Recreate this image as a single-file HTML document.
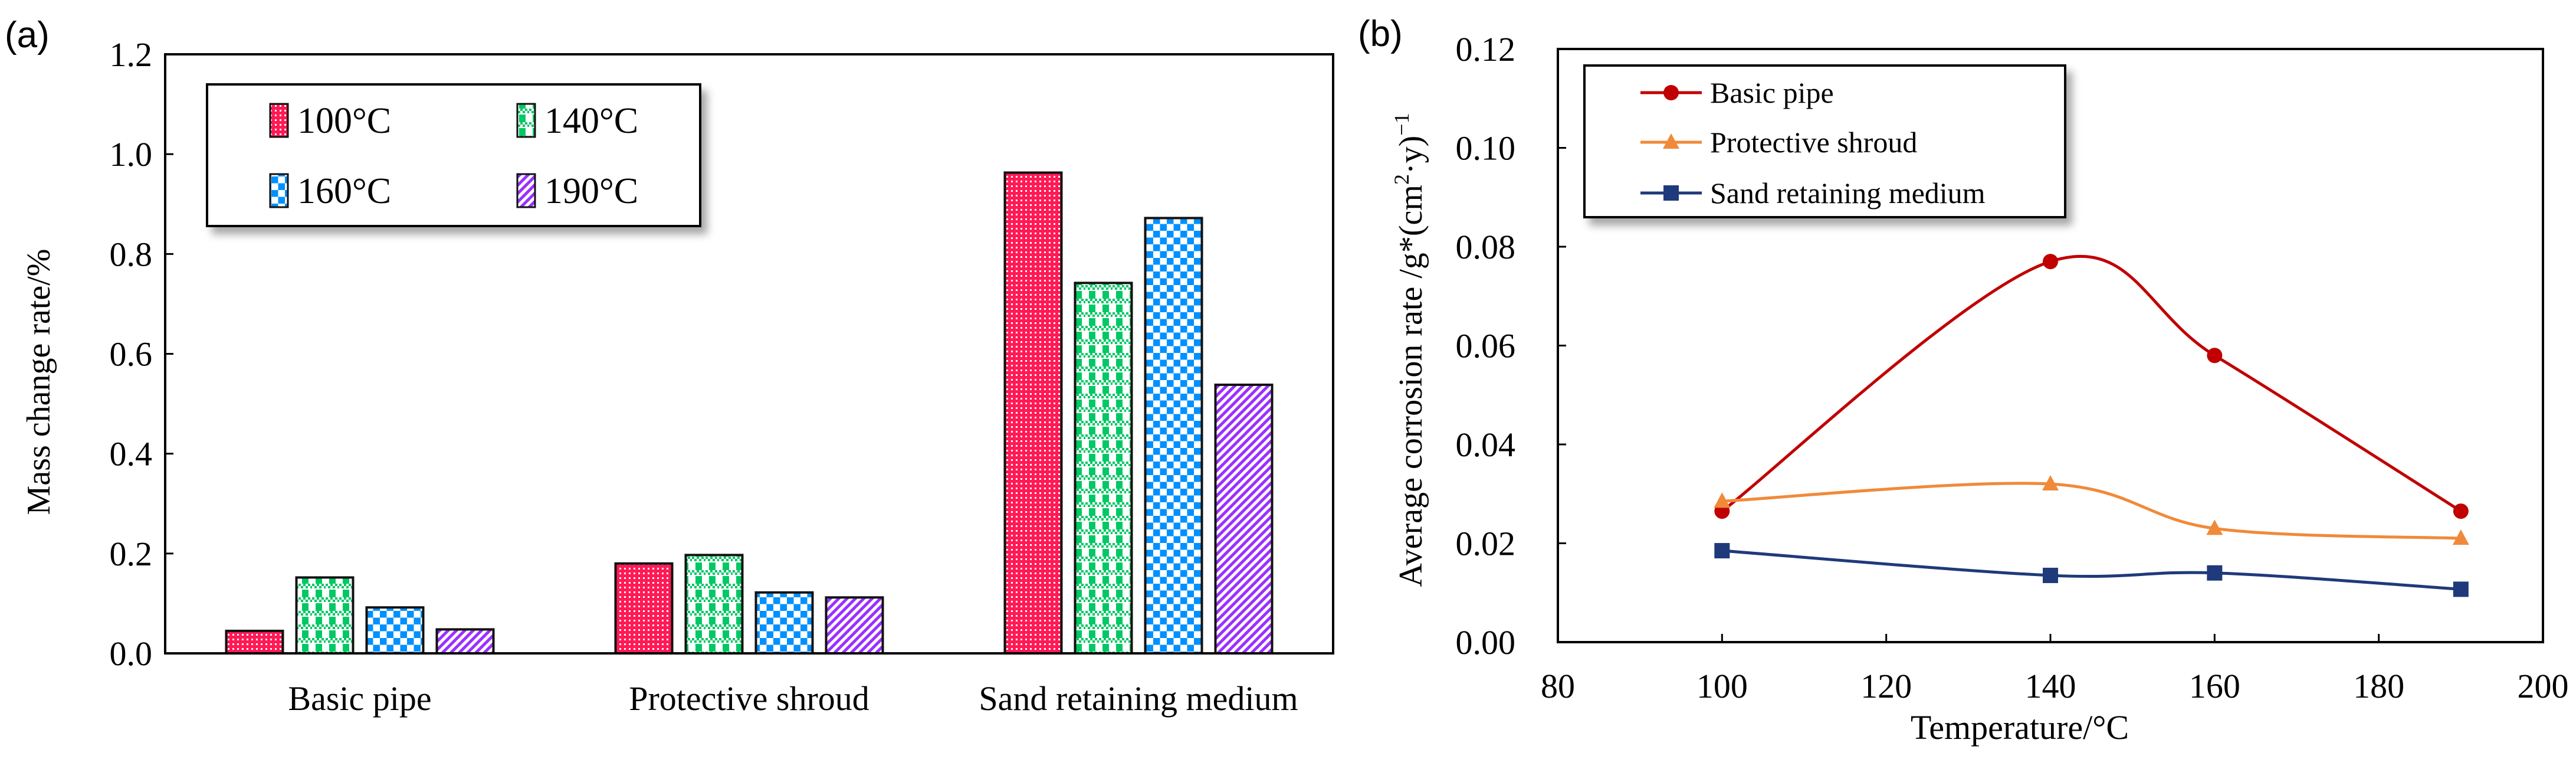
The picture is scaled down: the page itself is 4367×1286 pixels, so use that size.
<!DOCTYPE html>
<html><head><meta charset="utf-8">
<style>
html,body{margin:0;padding:0;background:#fff;}
svg{display:block;font-family:"Liberation Serif",serif;}
</style></head>
<body>
<svg id="fig" width="4367" height="1286" viewBox="0 0 4367 1286" xmlns="http://www.w3.org/2000/svg">
<defs>
<pattern id="pRed" width="8" height="8" patternUnits="userSpaceOnUse"><rect width="8" height="8" fill="#ff1a55"/><rect x="2" y="2" width="3" height="3" fill="#fff"/></pattern>
<pattern id="pGreen" width="23" height="23" patternUnits="userSpaceOnUse"><rect width="23" height="23" fill="#fff"/><rect x="6" y="10" width="11" height="13" fill="#00c864"/><rect x="0" y="0" width="4" height="4" fill="#00c864"/><rect x="8" y="0" width="4" height="4" fill="#00c864"/><rect x="16" y="0" width="4" height="4" fill="#00c864"/><rect x="4" y="4" width="4" height="4" fill="#00c864"/><rect x="12" y="4" width="4" height="4" fill="#00c864"/><rect x="20" y="4" width="3" height="4" fill="#00c864"/></pattern>
<pattern id="pBlue" width="23" height="23" patternUnits="userSpaceOnUse"><rect width="23" height="23" fill="#fff"/><rect width="11.5" height="11.5" fill="#0090ff"/><rect x="11.5" y="11.5" width="11.5" height="11.5" fill="#0090ff"/></pattern>
<pattern id="pPurple" width="10" height="10" patternUnits="userSpaceOnUse" patternTransform="rotate(45)"><rect width="10" height="10" fill="#fff"/><rect width="5" height="10" fill="#9b30ff"/></pattern>
<filter id="sh" x="-10%" y="-10%" width="130%" height="140%"><feDropShadow dx="10" dy="12" stdDeviation="7" flood-color="#000" flood-opacity="0.35"/></filter>
</defs>
<g id="chartA"></g>
<g id="chartB"></g>
</svg>
<script>
// ---- Chart A data ----
const catsA = ["Basic pipe","Protective shroud","Sand retaining medium"];
const seriesNamesA = ["100°C","140°C","160°C","190°C"];
const s100 = [0.045,0.18,0.963];
const s140 = [0.152,0.197,0.742];
const s160 = [0.092,0.122,0.872];
const s190 = [0.048,0.112,0.538];
const yTicksA = ["0.0","0.2","0.4","0.6","0.8","1.0","1.2"];
// ---- Chart B data ----
const tempsB = [100,140,160,190];
const basicB = [0.0265,0.077,0.058,0.0265];
const shroudB = [0.0285,0.032,0.023,0.021];
const sandB = [0.0185,0.0135,0.014,0.0107];
const xTicksB = ["80","100","120","140","160","180","200"];
const yTicksB = ["0.00","0.02","0.04","0.06","0.08","0.10","0.12"];

const NS="http://www.w3.org/2000/svg";
function mk(parent,tag,attrs,text){const e=document.createElementNS(NS,tag);for(const k in attrs)e.setAttribute(k,attrs[k]);if(text!==undefined)e.textContent=text;parent.appendChild(e);return e;}

// ===== Chart A =====
(function(){
const g=document.getElementById('chartA');
const L=280,R=2260,T=92,B=1107,ymax=1.2;
const y=v=>B-(v/ymax)*(B-T);
const groupW=(R-L)/catsA.length;
const fills=["url(#pRed)","url(#pGreen)","url(#pBlue)","url(#pPurple)"];
const data=[s100,s140,s160,s190];
const bw=96,step=119;
let t=mk(g,'text',{x:8,y:80,'font-size':62,'font-family':'Liberation Sans, sans-serif'},'(a)');

for(let c=0;c<catsA.length;c++){
  const cx=L+groupW*(c+0.5);
  for(let s=0;s<4;s++){
    const x0=cx-2*step+s*step+(step-bw)/2;
    const r=mk(g,'rect',{x:x0,y:y(data[s][c]),width:bw,height:B-y(data[s][c]),fill:fills[s],stroke:'#111','stroke-width':4});
    
    
  }
  const lb=mk(g,'text',{x:cx,y:1203,'text-anchor':'middle','font-size':58},catsA[c]);
  
  
}
mk(g,'rect',{x:L,y:T,width:R-L,height:B-T,fill:'none',stroke:'#000','stroke-width':4});
for(let i=0;i<yTicksA.length;i++){
  const v=i*0.2,yy=y(v);
  mk(g,'line',{x1:L,x2:L+14,y1:yy,y2:yy,stroke:'#000','stroke-width':3});
  const tl=mk(g,'text',{x:L-22,y:yy+20,'text-anchor':'end','font-size':58},yTicksA[i]);
  
  
}
const yt=mk(g,'text',{x:0,y:0,'text-anchor':'middle','font-size':56,transform:'translate(84,647) rotate(-90)'},'Mass change rate/%');

const lg=mk(g,'g',{});

mk(lg,'rect',{x:351,y:143,width:836,height:240,fill:'#fff',stroke:'#000','stroke-width':4,filter:'url(#sh)'});
const pos=[[458,204],[877,204],[458,323],[877,323]];
for(let s=0;s<4;s++){
  const e=mk(lg,'g',{});
  
  
  mk(e,'rect',{x:pos[s][0],y:pos[s][1]-28,width:30,height:56,fill:fills[s],stroke:'#111','stroke-width':3});
  mk(e,'text',{x:pos[s][0]+46,y:pos[s][1]+21,'font-size':62},seriesNamesA[s]);
}
})();

// ===== Chart B =====
(function(){
const g=document.getElementById('chartB');
const L=2641,R=4311,T=83,B=1088;
const x=v=>L+(v-80)/120*(R-L);
const y=v=>B-(v/0.12)*(B-T);
let t=mk(g,'text',{x:2302,y:78,'font-size':62,'font-family':'Liberation Sans, sans-serif'},'(b)');

mk(g,'rect',{x:L,y:T,width:R-L,height:B-T,fill:'none',stroke:'#000','stroke-width':4});
for(let i=0;i<yTicksB.length;i++){
  const yy=y(i*0.02);
  mk(g,'line',{x1:L,x2:L+14,y1:yy,y2:yy,stroke:'#000','stroke-width':3});
  const tl=mk(g,'text',{x:L-72,y:yy+20,'text-anchor':'end','font-size':58},yTicksB[i]);
  
  
}
for(let i=0;i<xTicksB.length;i++){
  const xx=x(+xTicksB[i]);
  mk(g,'line',{x1:xx,x2:xx,y1:B,y2:B-14,stroke:'#000','stroke-width':3});
  const tl=mk(g,'text',{x:xx,y:1182,'text-anchor':'middle','font-size':58},xTicksB[i]);
  
  
}
const xt=mk(g,'text',{x:3424,y:1252,'text-anchor':'middle','font-size':58},'Temperature/°C');

const yt=mk(g,'text',{x:0,y:0,'text-anchor':'middle','font-size':56,transform:'translate(2410,593) rotate(-90)'});

yt.innerHTML='Average corrosion rate /g*(cm<tspan dy="-22" font-size="36">2</tspan><tspan dy="22">·y)</tspan><tspan dy="-22" font-size="36">−1</tspan>';
function smooth(pts){
  let d='M'+pts[0][0]+','+pts[0][1];
  for(let i=0;i<pts.length-1;i++){
    const p0=pts[Math.max(0,i-1)],p1=pts[i],p2=pts[i+1],p3=pts[Math.min(pts.length-1,i+2)];
    const k=1/6;
    d+=' C'+(p1[0]+(p2[0]-p0[0])*k)+','+(p1[1]+(p2[1]-p0[1])*k)+' '+(p2[0]-(p3[0]-p1[0])*k)+','+(p2[1]-(p3[1]-p1[1])*k)+' '+p2[0]+','+p2[1];
  }
  return d;
}
const series=[[basicB,'#c00000','circle','Basic pipe'],[shroudB,'#f08a3a','tri','Protective shroud'],[sandB,'#1f3a7a','sq','Sand retaining medium']];
function marker(parent,type,cx,cy,col){
  if(type==='circle') return mk(parent,'circle',{cx:cx,cy:cy,r:13,fill:col});
  if(type==='tri') return mk(parent,'polygon',{points:(cx)+','+(cy-15)+' '+(cx+14)+','+(cy+11)+' '+(cx-14)+','+(cy+11),fill:col});
  return mk(parent,'rect',{x:cx-13,y:cy-13,width:26,height:26,fill:col});
}
series.forEach((s,si)=>{
  const sg=mk(g,'g',{});
  
  
  const pts=tempsB.map((tv,i)=>[x(tv),y(s[0][i])]);
  mk(sg,'path',{d:smooth(pts),fill:'none',stroke:s[1],'stroke-width':5});
  pts.forEach(p=>{
    const m=marker(sg,s[2],p[0],p[1],s[1]);
    
    
  });
});
const lg=mk(g,'g',{});

mk(lg,'rect',{x:2686,y:111,width:815,height:257,fill:'#fff',stroke:'#000','stroke-width':4,filter:'url(#sh)'});
const ly=[157,241,327];
series.forEach((s,i)=>{
  const e=mk(lg,'g',{});
  
  
  mk(e,'line',{x1:2781,x2:2885,y1:ly[i],y2:ly[i],stroke:s[1],'stroke-width':5});
  marker(e,s[2],2833,ly[i],s[1]);
  mk(e,'text',{x:2899,y:ly[i]+17,'font-size':50},s[3]);
});
})();
</script>
</body></html>
